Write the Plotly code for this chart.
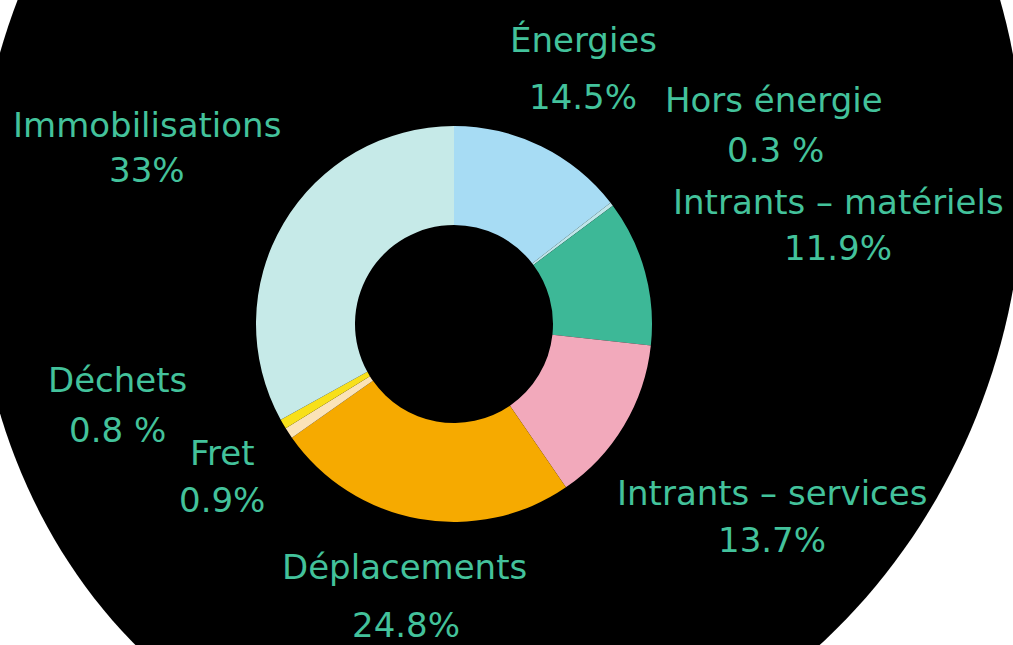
import numpy as np
import plotly.graph_objects as go

# ---- data ----
categories = ["Énergies", "Hors énergie", "Intrants – matériels", "Intrants – services",
              "Déplacements", "Fret", "Déchets", "Immobilisations"]
values = [14.5, 0.3, 11.9, 13.7, 24.8, 0.9, 0.8, 33.0]
value_labels = ["14.5%", "0.3 %", "11.9%", "13.7%", "24.8%", "0.9%", "0.8 %", "33%"]

# ---- styles ----
colors = ["#a7dcf4", "#bfe6ea", "#3db897", "#f2a9bb", "#f6aa00", "#fbe3b8", "#f8e01a", "#c6eae8"]
TEXT_COLOR = "#43c29b"
FONT = "DejaVu Sans"
FONT_SIZE = 34
W, H = 1013, 645

# annotation positions in pixels (name line, value line)
label_pos = {
    "Énergies": ((583, 40), (583, 97)),
    "Hors énergie": ((774, 100), (775, 150)),
    "Intrants – matériels": ((838, 202), (838, 248)),
    "Intrants – services": ((772, 493), (772, 540)),
    "Déplacements": ((404, 567), (406, 625)),
    "Fret": ((222, 453), (222, 500)),
    "Déchets": ((117, 380), (117, 430)),
    "Immobilisations": ((147, 125), (147, 170)),
}

def px(x, y):
    return x / W, 1 - y / H

# donut geometry (pixels)
cx, cy, r_out = 454, 324, 198
x0, y0 = px(cx - r_out, cy + r_out)
x1, y1 = px(cx + r_out, cy - r_out)

fig = go.Figure(go.Pie(
    labels=categories, values=values, sort=False, direction="clockwise", rotation=0,
    hole=0.5, marker=dict(colors=colors, line=dict(width=0)), textinfo="none",
    domain=dict(x=[x0, x1], y=[y0, y1]), showlegend=False,
))

# black background ellipse (decoration)
ecx, ecy, a_major, b_minor, tilt = 499, 203, 587, 521, np.deg2rad(13.45)
t = np.linspace(0, 2 * np.pi, 240)
em = np.array([np.sin(tilt), -np.cos(tilt)])
en = np.array([np.cos(tilt), np.sin(tilt)])
ex = ecx + a_major * np.cos(t) * em[0] + b_minor * np.sin(t) * en[0]
ey = ecy + a_major * np.cos(t) * em[1] + b_minor * np.sin(t) * en[1]
path = "M " + " L ".join(f"{xx / W:.5f},{1 - yy / H:.5f}" for xx, yy in zip(ex, ey)) + " Z"
fig.add_shape(type="path", path=path, xref="paper", yref="paper",
              fillcolor="black", line=dict(width=0), layer="below")

annotations = []
for name, vlab in zip(categories, value_labels):
    (nx, ny), (vx, vy) = label_pos[name]
    for txt, (ax_, ay_) in ((name, (nx, ny)), (vlab, (vx, vy))):
        xp, yp = px(ax_, ay_)
        annotations.append(dict(text=txt, x=xp, y=yp, xref="paper", yref="paper",
                                showarrow=False, xanchor="center", yanchor="middle",
                                font=dict(family=FONT, size=FONT_SIZE, color=TEXT_COLOR)))

fig.update_layout(
    width=W, height=H, margin=dict(l=0, r=0, t=0, b=0),
    paper_bgcolor="white", plot_bgcolor="white",
    annotations=annotations,
)

fig.write_html("out.html", config={"displayModeBar": False},
               post_script="document.body.style.margin='0';document.body.style.overflow='hidden';")
